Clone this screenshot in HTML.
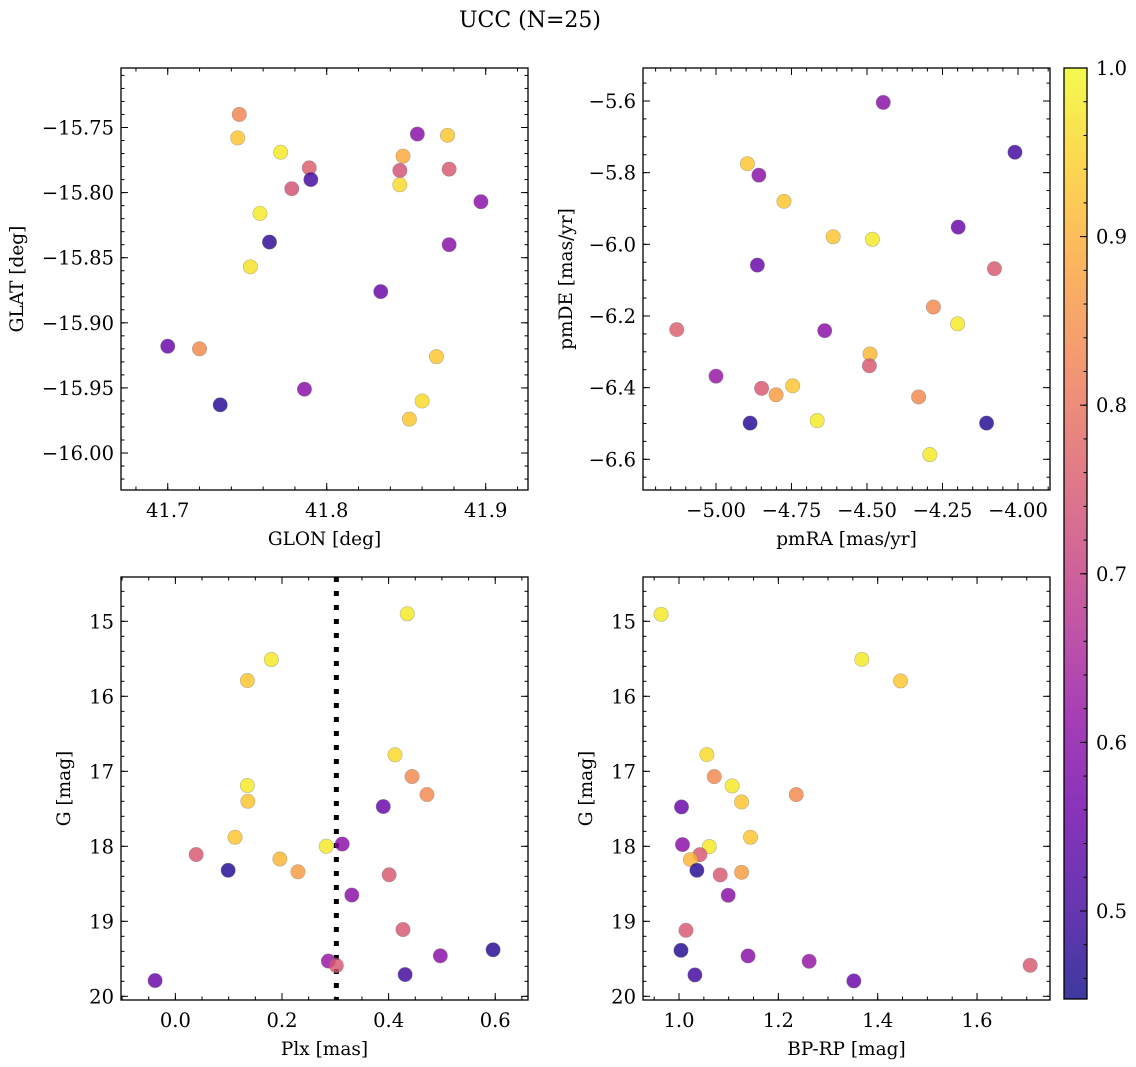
<!DOCTYPE html>
<html><head><meta charset="utf-8"><title>UCC (N=25)</title>
<style>
html,body{margin:0;padding:0;background:#fff;}
svg{display:block;font-family:"DejaVu Serif","Liberation Serif",serif;}
</style></head>
<body>
<svg id="fig" width="1136" height="1067" viewBox="0 0 1136 1067" xmlns="http://www.w3.org/2000/svg">
<text x="530" y="27" font-size="22" text-anchor="middle">UCC (N=25)</text>
<defs>
<linearGradient id="cbgrad" x1="0" y1="1" x2="0" y2="0">
<stop offset="0" stop-color="#0d0887"/><stop offset="0.1" stop-color="#41049d"/><stop offset="0.2" stop-color="#6a00a8"/><stop offset="0.3" stop-color="#8f0da4"/><stop offset="0.4" stop-color="#b12a90"/><stop offset="0.5" stop-color="#cc4778"/><stop offset="0.6" stop-color="#e16462"/><stop offset="0.7" stop-color="#f2844b"/><stop offset="0.8" stop-color="#fca636"/><stop offset="0.9" stop-color="#fcce25"/><stop offset="1" stop-color="#f0f921"/>
</linearGradient>
</defs>
</svg>
<script>
// ---- data ----
const glon = [41.745,41.744,41.771,41.789,41.778,41.790,41.758,41.764,41.752,41.834,41.700,41.720,41.733,41.786,41.857,41.876,41.848,41.846,41.877,41.846,41.897,41.877,41.869,41.860,41.852];
const glat = [-15.740,-15.758,-15.769,-15.781,-15.797,-15.790,-15.816,-15.838,-15.857,-15.876,-15.918,-15.920,-15.963,-15.951,-15.755,-15.756,-15.772,-15.783,-15.782,-15.794,-15.807,-15.840,-15.926,-15.960,-15.974];
const probTL = [0.83,0.93,0.98,0.76,0.74,0.50,0.98,0.48,0.97,0.55,0.55,0.84,0.47,0.60,0.60,0.93,0.89,0.74,0.75,0.96,0.60,0.60,0.93,0.96,0.93];

const pmra = [-4.446,-4.010,-4.896,-4.858,-4.775,-4.198,-4.612,-4.482,-4.863,-4.078,-4.280,-4.200,-5.130,-4.640,-4.490,-4.492,-5.000,-4.849,-4.801,-4.746,-4.329,-4.887,-4.665,-4.104,-4.292];
const pmde = [-5.604,-5.743,-5.775,-5.807,-5.880,-5.952,-5.979,-5.986,-6.058,-6.068,-6.175,-6.222,-6.238,-6.241,-6.306,-6.339,-6.368,-6.402,-6.420,-6.395,-6.426,-6.499,-6.492,-6.499,-6.587];
const probTR = [0.60,0.50,0.93,0.60,0.93,0.55,0.93,0.98,0.55,0.75,0.84,0.98,0.76,0.60,0.91,0.75,0.62,0.75,0.87,0.93,0.84,0.47,0.98,0.47,0.98];

const plx = [0.435,0.180,0.135,0.412,0.444,0.135,0.136,0.472,0.390,0.112,0.313,0.283,0.039,0.196,0.099,0.401,0.230,0.331,0.427,0.596,0.497,0.287,0.302,0.431,-0.038];
const gmagBL = [14.90,15.51,15.79,16.78,17.07,17.19,17.40,17.31,17.47,17.88,17.97,18.00,18.11,18.17,18.32,18.38,18.34,18.65,19.11,19.38,19.46,19.53,19.59,19.71,19.79];
const probBL = [0.98,0.98,0.93,0.96,0.84,0.98,0.93,0.84,0.55,0.93,0.60,0.98,0.75,0.91,0.47,0.75,0.87,0.60,0.75,0.47,0.60,0.62,0.75,0.50,0.55];
const plxCut = [0.302];

const bprp = [0.964,1.368,1.446,1.056,1.071,1.107,1.126,1.236,1.005,1.144,1.007,1.061,1.042,1.023,1.036,1.083,1.126,1.099,1.014,1.004,1.139,1.262,1.707,1.032,1.352];
const gmagBR = [14.907,15.507,15.795,16.777,17.071,17.195,17.409,17.311,17.475,17.880,17.977,18.004,18.111,18.177,18.320,18.382,18.347,18.653,19.120,19.387,19.462,19.533,19.587,19.715,19.795];
const probBR = [0.98,0.98,0.93,0.96,0.84,0.98,0.93,0.84,0.55,0.93,0.60,0.98,0.75,0.91,0.47,0.75,0.87,0.60,0.75,0.47,0.60,0.62,0.75,0.50,0.55];

const tlXTicks = [41.7,41.8,41.9];
const tlYTicks = [-15.75,-15.80,-15.85,-15.90,-15.95,-16.00];
const trXTicks = [-5.00,-4.75,-4.50,-4.25,-4.00];
const trYTicks = [-5.6,-5.8,-6.0,-6.2,-6.4,-6.6];
const blXTicks = [0.0,0.2,0.4,0.6];
const gYTicks = [15,16,17,18,19,20];
const brXTicks = [1.0,1.2,1.4,1.6];
const cbTicks = [0.5,0.6,0.7,0.8,0.9,1.0];

// ---- helpers ----
const NS = 'http://www.w3.org/2000/svg';
const svg = document.getElementById('fig');
const FS = 19.5, LFS = 18.5;
function mk(tag, attrs, parent){
  const e = document.createElementNS(NS, tag);
  for (const k in attrs) e.setAttribute(k, attrs[k]);
  (parent||svg).appendChild(e);
  return e;
}
const stops = [[13,8,135],[65,4,157],[106,0,168],[143,13,164],[177,42,144],[204,71,120],[225,100,98],[242,132,75],[252,166,54],[252,206,37],[240,249,33]];
const vmin = 0.4478, vmax = 1.0;
function plasma(v){
  let t = (v - vmin)/(vmax - vmin); t = Math.max(0, Math.min(1, t));
  const f = t*10, i = Math.min(9, Math.floor(f)), r = f - i;
  const a = stops[i], b = stops[i+1];
  return 'rgb(' + [0,1,2].map(k => Math.round(a[k] + (b[k]-a[k])*r)).join(',') + ')';
}
function fmt(v, d){ const s = Math.abs(v).toFixed(d); return (v < -1e-9 ? '\u2212' : '') + s; }
function linear(d0, d1, r0, r1){ return v => r0 + (v - d0)/(d1 - d0)*(r1 - r0); }

function axes(o){
  const g = mk('g', {});
  
  
  const L=o.x0, R=o.x1, T=o.y0, B=o.y1;
  const sx = linear(o.xd[0], o.xd[1], L, R);
  const sy = linear(o.yd[0], o.yd[1], T, B);
  const minorX = [], minorY = [];
  for (let v = Math.ceil(o.xd[0]/o.xmin - 1e-6)*o.xmin; v <= o.xd[1]+1e-9; v += o.xmin) minorX.push(v);
  const ylo = Math.min(o.yd[0], o.yd[1]), yhi = Math.max(o.yd[0], o.yd[1]);
  for (let v = Math.ceil(ylo/o.ymin - 1e-6)*o.ymin; v <= yhi+1e-9; v += o.ymin) minorY.push(v);
  const tg = mk('g', {stroke:'#000','stroke-width':1}, g);
  minorX.forEach(v => { const x = sx(v);
    mk('line',{x1:x,x2:x,y1:B,y2:B-3.5},tg); mk('line',{x1:x,x2:x,y1:T,y2:T+3.5},tg); });
  minorY.forEach(v => { const y = sy(v);
    mk('line',{x1:L,x2:L+3.5,y1:y,y2:y},tg); mk('line',{x1:R,x2:R-3.5,y1:y,y2:y},tg); });
  o.xt.forEach(v => { const x = sx(v);
    mk('line',{x1:x,x2:x,y1:B,y2:B-7},tg); mk('line',{x1:x,x2:x,y1:T,y2:T+7},tg);
    const t = mk('text',{x:x,y:B+27,'font-size':FS,'text-anchor':'middle'},g); t.textContent = fmt(v,o.xdec);
      });
  o.yt.forEach(v => { const y = sy(v);
    mk('line',{x1:L,x2:L+7,y1:y,y2:y},tg); mk('line',{x1:R,x2:R-7,y1:y,y2:y},tg);
    const t = mk('text',{x:L-7,y:y+7,'font-size':FS,'text-anchor':'end'},g); t.textContent = fmt(v,o.ydec);
      });
  const xl = mk('text',{x:(L+R)/2,y:B+55,'font-size':LFS,'text-anchor':'middle'},g); xl.textContent = o.xlabel;
   
  const yl = mk('text',{x:0,y:0,'font-size':LFS,'text-anchor':'middle',transform:'translate('+o.ylx+','+((T+B)/2)+') rotate(-90)'},g); yl.textContent = o.ylabel;
   
  if (o.vline) o.vline.forEach(v => {
    const ln = mk('line',{x1:sx(v),x2:sx(v),y1:T,y2:B,stroke:'#000','stroke-width':5,'stroke-dasharray':'5,9'},g);
     
  });
  const pg = mk('g', {}, g);
  o.xs.forEach((xv,i) => {
    const c = mk('circle',{cx:sx(xv),cy:sy(o.ys[i]),r:7.2,fill:plasma(o.cs[i]),'fill-opacity':0.82,stroke:'#777','stroke-opacity':0.5,'stroke-width':0.6},pg);
    
    
  });
  const fr = mk('rect',{x:L,y:T,width:R-L,height:B-T,fill:'none',stroke:'#000','stroke-width':1.3},g);
   
}

axes({name:'panel-glon-glat',x0:121,x1:528,y0:68,y1:490,xd:[41.6706,41.9266],yd:[-15.7043,-16.0284],
  xt:tlXTicks,yt:tlYTicks,xmin:0.02,ymin:0.01,xdec:1,ydec:2,xlabel:'GLON [deg]',ylabel:'GLAT [deg]',ylx:23,
  xs:glon,ys:glat,cs:probTL});
axes({name:'panel-pmra-pmde',x0:643,x1:1050,y0:68,y1:490,xd:[-5.2417,-3.894],yd:[-5.5079,-6.6857],
  xt:trXTicks,yt:trYTicks,xmin:0.05,ymin:0.05,xdec:2,ydec:1,xlabel:'pmRA [mas/yr]',ylabel:'pmDE [mas/yr]',ylx:572,
  xs:pmra,ys:pmde,cs:probTR});
axes({name:'panel-plx-g',x0:121,x1:528,y0:577,y1:1000,xd:[-0.102,0.6615],yd:[14.4093,20.0493],
  xt:blXTicks,yt:gYTicks,xmin:0.05,ymin:0.2,xdec:1,ydec:0,xlabel:'Plx [mas]',ylabel:'G [mag]',ylx:70,
  xs:plx,ys:gmagBL,cs:probBL,vline:plxCut});
axes({name:'panel-bprp-g',x0:643,x1:1050,y0:577,y1:1000,xd:[0.9275,1.7469],yd:[14.4093,20.0493],
  xt:brXTicks,yt:gYTicks,xmin:0.05,ymin:0.2,xdec:1,ydec:0,xlabel:'BP-RP [mag]',ylabel:'G [mag]',ylx:592,
  xs:bprp,ys:gmagBR,cs:probBR});

(function(){
  const g = mk('g',{});
  
  
  const L=1064, R=1087, T=68, B=999;
  const sy = linear(vmin, vmax, B, T);
  mk('rect',{x:L,y:T,width:R-L,height:B-T,fill:'url(#cbgrad)','fill-opacity':0.8},g);
  for (let v = 0.46; v <= 1.0001; v += 0.02) { const y = sy(v);
    mk('line',{x1:R,x2:R-3.5,y1:y,y2:y,stroke:'#000','stroke-width':1},g); }
  cbTicks.forEach(v => { const y = sy(v);
    mk('line',{x1:R,x2:R-7,y1:y,y2:y,stroke:'#000','stroke-width':1},g);
    const t = mk('text',{x:R+9,y:y+7,'font-size':FS},g); t.textContent = v.toFixed(1);
      });
  mk('rect',{x:L,y:T,width:R-L,height:B-T,fill:'none',stroke:'#000','stroke-width':1.3},g);
})();
</script>
</body></html>
